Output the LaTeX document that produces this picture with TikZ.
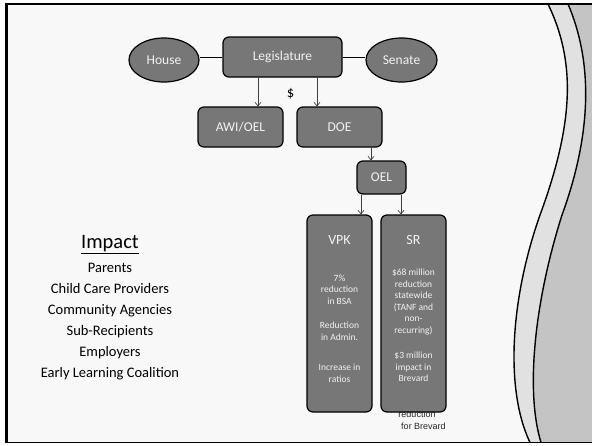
\documentclass[tikz,border=0pt]{standalone}
\usepackage{fontspec}
\setmainfont{Carlito}
\newfontfamily\arialf{Liberation Sans}
\usetikzlibrary{shapes.geometric,arrows.meta}
\definecolor{boxfill}{HTML}{777777}
\definecolor{boxtext}{HTML}{F2F2F2}
\definecolor{pagebg}{HTML}{F8F8F8}
\definecolor{linegray}{HTML}{404040}
\definecolor{waveA}{HTML}{E1E1E1}
\definecolor{waveB}{HTML}{C4C4C4}
\begin{document}
\begin{tikzpicture}[x=1pt,y=-1pt,
  box/.style={draw=black,line width=1.2pt,fill=boxfill,rounded corners=6pt,text=boxtext,inner sep=0pt,font=\fontsize{13.5}{16}\selectfont},
  oval/.style={ellipse,draw=black,line width=1.2pt,fill=boxfill,text=boxtext,inner sep=0pt,font=\fontsize{13.5}{16}\selectfont},
  arr/.style={draw=linegray,line width=0.7pt,-{Straight Barb[length=3.5pt,width=6pt]}},
  conn/.style={draw=black,line width=1pt},
  small/.style={text=boxtext,font=\fontsize{9.5}{11.6}\selectfont,align=center,inner sep=0pt},
  wave/.style={draw=black,line width=1.4pt},
  listtext/.style={text=black,font=\fontsize{14.5}{21}\selectfont,align=center,inner sep=0pt},
]
% page
\useasboundingbox (0,0) rectangle (592,445);
\fill[white] (0,0) rectangle (592,445);
\fill[pagebg] (6,4) rectangle (592,442.5);

% right-hand wave decoration
\fill[waveA] (548,4) .. controls (575,60) and (575,120) .. (540,215)
   .. controls (510,300) and (505,390) .. (530,442.5)
   -- (541,442.5) .. controls (525,390) and (535,300) .. (562,215)
   .. controls (593,130) and (592,60) .. (568,4) -- cycle;
\fill[waveB] (568,4) .. controls (592,60) and (593,130) .. (562,215)
   .. controls (535,300) and (525,390) .. (541,442.5) -- (592,442.5) -- (592,4) -- cycle;
\draw[wave] (548,4) .. controls (575,60) and (575,120) .. (540,215)
   .. controls (510,300) and (505,390) .. (530,442.5);
\draw[wave] (568,4) .. controls (592,60) and (593,130) .. (562,215)
   .. controls (535,300) and (525,390) .. (541,442.5);

% frame
\draw[black,line width=2.5pt] (5.2,4) -- (592,4);
\draw[black,line width=2.5pt] (6.5,2.8) -- (6.5,443);
\draw[black,line width=1.3pt] (6,442.6) -- (592,442.6);

% overflow text (behind the SR box)
\node[font=\arialf\fontsize{9}{10}\selectfont,text=black!85,inner sep=0pt] (ovf1) at (417,414.5) {reduction};
\node[font=\arialf\fontsize{9}{10}\selectfont,text=black!85,inner sep=0pt] (ovf2) at (423.5,426) {for Brevard};

% top row
\node[oval,minimum width=70pt,minimum height=44pt] (house) at (164,60) {House};
\node[box,minimum width=119pt,minimum height=40pt] (leg) at (282.5,57) {Legislature};
\node[oval,minimum width=71pt,minimum height=44pt] (senate) at (401.5,60) {Senate};
\draw[conn] (leg.west) -- (leg.west -| house.east);
\draw[conn] (leg.east) -- (leg.east -| senate.west);

% second row
\node[box,minimum width=85pt,minimum height=40pt] (awi) at (240.5,127) {AWI/OEL};
\node[box,minimum width=85pt,minimum height=40pt] (doe) at (339.5,127) {DOE};
\node[font=\fontsize{14.5}{16}\selectfont,text=black,inner sep=0pt] (dollar) at (290.5,94) {\$};
\coordinate (ca) at (258,0);
\coordinate (cb) at (317,0);
\draw[arr] (leg.south -| ca) -- (awi.north -| ca);
\draw[arr] (leg.south -| cb) -- (doe.north -| cb);

% OEL
\node[box,minimum width=49pt,minimum height=33pt] (oel) at (381.5,177.5) {OEL};
\coordinate (cc) at (371,0);
\draw[arr] (doe.south -| cc) -- (oel.north -| cc);

% VPK and SR columns
\node[box,minimum width=65pt,minimum height=197pt] (vpk) at (339.5,313.5) {};
\node[box,minimum width=65pt,minimum height=197pt] (sr) at (413.5,313.5) {};
\coordinate (cd) at (361,0);
\coordinate (ce) at (401,0);
\draw[arr] (oel.south -| cd) -- (vpk.north -| cd);
\draw[arr] (oel.south -| ce) -- (sr.north -| ce);

\node[text=boxtext,font=\fontsize{14}{16}\selectfont,inner sep=0pt] (vpkt) at (339.5,240) {VPK};
\node[small] (vpk1) at (339.5,289.5) {7\%\\reduction\\in BSA};
\node[small] (vpk2) at (339.5,331) {Reduction\\in Admin.};
\node[small] (vpk3) at (339.5,373) {Increase in\\ratios};

\node[text=boxtext,font=\fontsize{14}{16}\selectfont,inner sep=0pt] (srt) at (413.5,240) {SR};
\node[small] (sr1) at (413.5,302) {\$68 million\\reduction\\statewide\\(TANF and\\non-\\recurring)};
\node[small] (sr2) at (413.5,367) {\$3 million\\impact in\\Brevard};

% Impact list
\node[text=black,font=\fontsize{20.5}{24}\selectfont,inner sep=0pt] (impact) at (110,245) {\underline{Impact}};
\node[listtext] (list) at (110,321.5) {Parents\\Child Care Providers\\Community Agencies\\Sub-Recipients\\Employers\\Early Learning Coalition};
\end{tikzpicture}
\end{document}
